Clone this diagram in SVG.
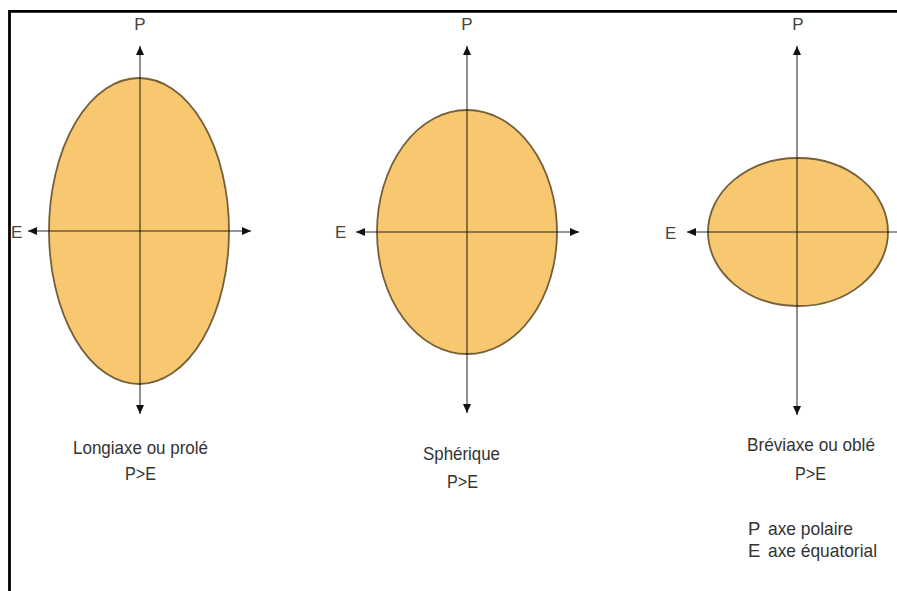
<svg xmlns="http://www.w3.org/2000/svg" width="897" height="591" viewBox="0 0 897 591">
<style>
  .shape{fill:#F8C870;stroke:#76603a;stroke-width:1.8}
  .axis{stroke:#000;stroke-opacity:0.55;stroke-width:1.6;fill:none}
  .lbl{font-family:"Liberation Sans",Arial,sans-serif;font-size:18.5px;fill:#333}
  .ax{font-family:"Liberation Sans",Arial,sans-serif;font-size:17px;fill:#444}
</style>
<defs>
  <marker id="arr" markerUnits="userSpaceOnUse" markerWidth="12" markerHeight="12" viewBox="0 0 12 12" refX="10" refY="6" orient="auto">
    <path d="M1,2 L10,6 L1,10 Z" fill="#111"/>
  </marker>
</defs>
<rect width="897" height="591" fill="#fff"/>
<g id="node-longiaxe">
  <ellipse class="shape" cx="139" cy="231" rx="90" ry="153"/>
</g>
<g id="node-spherique">
  <ellipse class="shape" cx="467" cy="232" rx="90" ry="122"/>
</g>
<g id="node-breviaxe">
  <ellipse class="shape" cx="798" cy="232" rx="90" ry="74"/>
</g>
<g id="connectors">
  <line class="axis" x1="140" y1="231" x2="140" y2="46" marker-end="url(#arr)"/>
  <line class="axis" x1="140" y1="231" x2="140" y2="414" marker-end="url(#arr)"/>
  <line class="axis" x1="139" y1="231" x2="28" y2="231" marker-end="url(#arr)"/>
  <line class="axis" x1="139" y1="231" x2="251" y2="231" marker-end="url(#arr)"/>
  <line class="axis" x1="467" y1="232" x2="467" y2="46" marker-end="url(#arr)"/>
  <line class="axis" x1="467" y1="232" x2="467" y2="413" marker-end="url(#arr)"/>
  <line class="axis" x1="467" y1="232" x2="356" y2="232" marker-end="url(#arr)"/>
  <line class="axis" x1="467" y1="232" x2="579" y2="232" marker-end="url(#arr)"/>
  <line class="axis" x1="797" y1="232" x2="797" y2="46" marker-end="url(#arr)"/>
  <line class="axis" x1="797" y1="232" x2="797" y2="415" marker-end="url(#arr)"/>
  <line class="axis" x1="797" y1="232" x2="687" y2="232" marker-end="url(#arr)"/>
  <line class="axis" x1="797" y1="232" x2="908" y2="232" marker-end="url(#arr)"/>
</g>
<g id="labels">
  <text class="ax" x="140" y="30" text-anchor="middle">P</text>
  <text class="ax" x="467" y="30" text-anchor="middle">P</text>
  <text class="ax" x="798" y="30" text-anchor="middle">P</text>
  <text class="ax" x="11" y="238">E</text>
  <text class="ax" x="335" y="238">E</text>
  <text class="ax" x="665" y="239">E</text>
  <text class="lbl" x="73" y="454" textLength="135" lengthAdjust="spacingAndGlyphs">Longiaxe ou prolé</text>
  <text class="lbl" x="125" y="480" textLength="31" lengthAdjust="spacingAndGlyphs">P&gt;E</text>
  <text class="lbl" x="423" y="460" textLength="77" lengthAdjust="spacingAndGlyphs">Sphérique</text>
  <text class="lbl" x="447" y="488" textLength="31" lengthAdjust="spacingAndGlyphs">P&gt;E</text>
  <text class="lbl" x="747" y="451" textLength="128" lengthAdjust="spacingAndGlyphs">Bréviaxe ou oblé</text>
  <text class="lbl" x="795" y="480" textLength="31" lengthAdjust="spacingAndGlyphs">P&gt;E</text>
  <text class="lbl" x="748" y="535">P</text>
  <text class="lbl" x="768" y="535" textLength="85" lengthAdjust="spacingAndGlyphs">axe polaire</text>
  <text class="lbl" x="748" y="557">E</text>
  <text class="lbl" x="768" y="557" textLength="109" lengthAdjust="spacingAndGlyphs">axe équatorial</text>
</g>
<path d="M9.5,591 V11.3 H897" fill="none" stroke="#000" stroke-width="2.8"/>
</svg>
